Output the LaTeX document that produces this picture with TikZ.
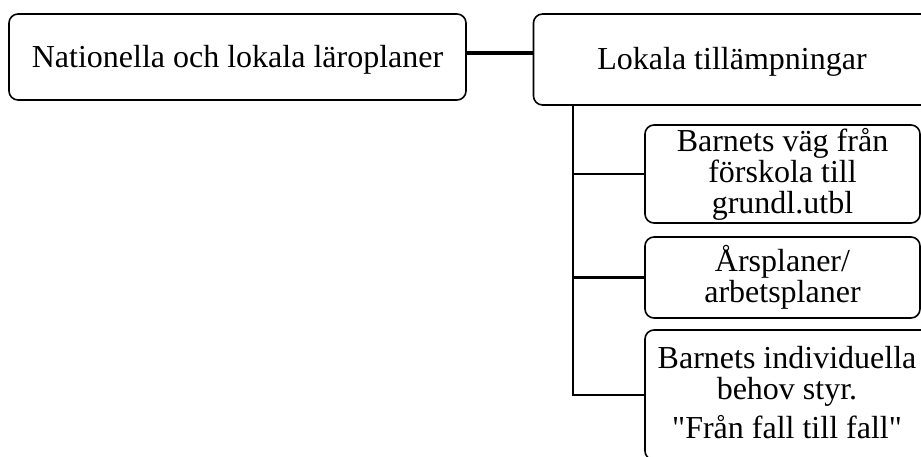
\documentclass[tikz,border=0pt]{standalone}
\usepackage{fontspec}
\setmainfont{Liberation Serif}[Ligatures=TeXOff]
\begin{document}
\begin{tikzpicture}[x=1pt,y=-1pt,
  box/.style={draw, line width=1.6pt, rounded corners=9pt, inner sep=0pt, fill=white},
  lbl/.style={font=\fontsize{32}{31}\selectfont, align=center},
  link/.style={line width=2.2pt},
  bold link/.style={line width=3.5pt}]
\useasboundingbox (0,0) rectangle (921,457);
\clip (0,0) rectangle (921,457);

% top level
\node[box, lbl, minimum width=457pt, minimum height=86pt, text height=29pt, text depth=7pt] (nat) at (237.5,57) {Nationella och lokala läroplaner};
\node[box, lbl, minimum width=397pt, minimum height=91pt, text height=28pt, text depth=7pt] (lok) at (732,59.5) {Lokala tillämpningar};

% local applications
\node[box, lbl, minimum width=275pt, minimum height=98pt] (vag) at (782.5,174) {Barnets väg från\\förskola till\\grundl.utbl};
\node[box, lbl, minimum width=275pt, minimum height=81pt] (ars) at (782.5,277.5) {Årsplaner/\\arbetsplaner};
\node[box, minimum width=285pt, minimum height=130pt] (ind) at (787.5,395) {};
\node[lbl] (indtxt) at (787,393) {Barnets individuella\\behov styr.\\[8pt]"Från fall till fall"};

% connectors
\coordinate (j) at (500,53);
\draw[bold link] (j -| nat.east) -- (j -| lok.west);
\coordinate (t) at (573,0);
\draw[link] (t |- lok.south) -- (t |- ind.west) -- (ind.west);
\draw[link] (t |- vag.west) -- (vag.west);
\draw[link] (t |- ars.west) -- (ars.west);
\end{tikzpicture}
\end{document}
